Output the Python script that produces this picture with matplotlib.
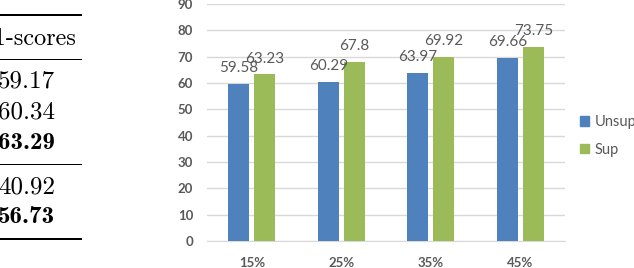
import numpy as np
import matplotlib
matplotlib.use('Agg')
import matplotlib.pyplot as plt
from matplotlib.lines import Line2D
from matplotlib.patches import Patch

# data
categories = ['15%', '25%', '35%', '45%']
unsup = [59.58, 60.29, 63.97, 69.66]
sup = [63.23, 67.8, 69.92, 73.75]
series_names = ['Unsup', 'Sup']

# cropped table on the left
table_header = 'F1-scores'
table_rows = ['59.17', '60.34', '63.29', '40.92', '56.73']
table_bold = [False, False, True, False, True]

W, H = 634, 268
fig = plt.figure(figsize=(W / 100, H / 100), dpi=100)

def fx(px):
    return px / W

def fy(py):
    return 1 - py / H

# table fragment
for yy, lw in [(15, 2.0), (59, 1.0), (164, 1.0), (239, 2.0)]:
    fig.add_artist(Line2D([0, fx(81)], [fy(yy), fy(yy)], color='black', lw=lw * 0.72))
fig.text(fx(76), fy(39), table_header, family='cmr10', fontsize=17.5,
         ha='right', va='center')
row_y = [81, 112, 143, 187, 217]
for txt, b, yy in zip(table_rows, table_bold, row_y):
    fig.text(fx(55), fy(yy), txt, family='cmb10' if b else 'cmr10',
             fontsize=18, ha='right', va='center')

# bar chart
ax = fig.add_axes([fx(207), fy(241), fx(565) - fx(207), fy(4) - fy(241)])
x = np.arange(len(categories))
w = 0.23
blue, green = '#4F81BD', '#9BBB59'
gray = '#595959'
b1 = ax.bar(x - 0.145, unsup, w, color=blue, zorder=3)
b2 = ax.bar(x + 0.145, sup, w, color=green, zorder=3)

for bars, vals in [(b1, unsup), (b2, sup)]:
    for r, v in zip(bars, vals):
        ax.annotate(f'{v:g}', (r.get_x() + r.get_width() / 2, v),
                    xytext=(0, 11.5), textcoords='offset points',
                    ha='center', va='center', fontsize=11, color=gray,
                    family='Lato')

ax.set_xlim(-0.5, 3.5)
ax.set_ylim(0, 90)
ax.set_yticks(range(0, 91, 10))
ax.yaxis.grid(True, color='#d9d9d9', lw=1, zorder=0)
for s in ['top', 'right', 'left']:
    ax.spines[s].set_visible(False)
ax.spines['bottom'].set_color('#d9d9d9')
ax.tick_params(length=0)
ax.tick_params(axis='y', pad=10)
ax.tick_params(axis='x', pad=11.5)
ax.set_xticks(x)
ax.set_xticklabels(categories)
for lbl in ax.get_xticklabels() + ax.get_yticklabels():
    lbl.set_family('Lato')
    lbl.set_fontweight('bold')
    lbl.set_color(gray)
    lbl.set_fontsize(9.5)

handles = [Patch(color=blue), Patch(color=green)]
fig.legend(handles, series_names, loc='center left',
           bbox_to_anchor=(fx(580), fy(136)), frameon=False,
           borderpad=0, borderaxespad=0,
           handlelength=0.6, handleheight=0.6, handletextpad=0.4,
           labelspacing=0.95, prop={'family': 'Lato', 'size': 10.5},
           labelcolor=gray)

fig.savefig('out.png', dpi=100)
